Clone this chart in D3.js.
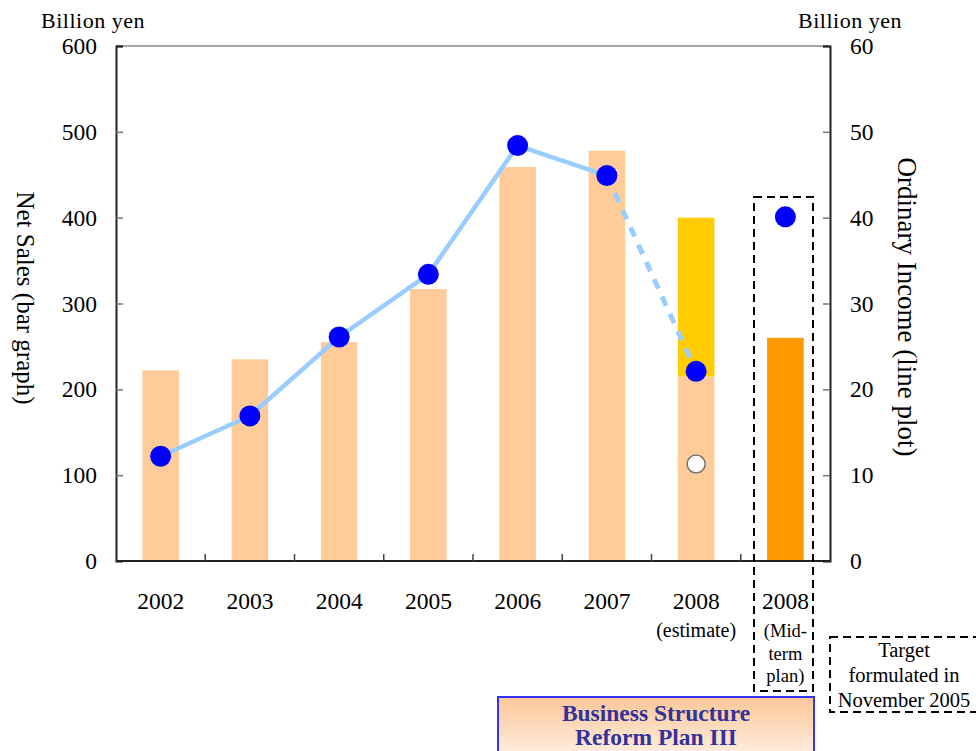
<!DOCTYPE html>
<html><head><meta charset="utf-8">
<script src="https://cdn.jsdelivr.net/npm/d3@7"></script>
<style>
body{margin:0;background:#fff}
svg{font-family:"Liberation Serif","Times New Roman",serif}
</style>
</head><body>
<svg id="chart" width="976" height="751"></svg>
<script>
// ---- data ----
const categories = ["2002","2003","2004","2005","2006","2007","2008e","2008p"];
const yearLabels = ["2002","2003","2004","2005","2006","2007","2008","2008"];
const netSales = [222,235,255,317,459,478,215,null];          // peach bars
const netSalesEstimateTop = [null,null,null,null,null,null,400,null]; // yellow part top
const netSalesPlan = [null,null,null,null,null,null,null,260]; // orange bar
const ordinaryIncome = [12.2,16.9,26.1,33.4,48.4,44.9,22.1,null];
const ordinaryIncomeHollow = [null,null,null,null,null,null,11.3,null];
const ordinaryIncomePlan = [null,null,null,null,null,null,null,40.1];
const leftTicks = [0,100,200,300,400,500,600];
const rightTicks = [0,10,20,30,40,50,60];

// ---- layout ----
const svg = d3.select("#chart");
const L = 116, R = 830, T = 46, B = 561;
const x = d3.scaleBand().domain(categories).range([L, R]).paddingInner(0).paddingOuter(0);
const yL = d3.scaleLinear().domain([0,600]).range([B, T]);
const yR = d3.scaleLinear().domain([0,60]).range([B, T]);
const bw = x.bandwidth() * 0.41;
const cx = c => x(c) + x.bandwidth()/2;

// top border
svg.append("line").attr("x1",L).attr("x2",R).attr("y1",T).attr("y2",T)
  .attr("stroke","#888").attr("stroke-width",1.5);

// bars
const idx = d3.range(categories.length);
svg.append("g").selectAll("rect").data(idx.filter(i=>netSales[i]!=null)).join("rect")
  .attr("x", i=>cx(categories[i])-bw/2).attr("width", bw)
  .attr("y", i=>yL(netSales[i])).attr("height", i=>yL(0)-yL(netSales[i]))
  .attr("fill","#ffcc99");
svg.append("g").selectAll("rect").data(idx.filter(i=>netSalesEstimateTop[i]!=null)).join("rect")
  .attr("x", i=>cx(categories[i])-bw/2).attr("width", bw)
  .attr("y", i=>yL(netSalesEstimateTop[i])).attr("height", i=>yL(netSales[i])-yL(netSalesEstimateTop[i]))
  .attr("fill","#ffcc00");
svg.append("g").selectAll("rect").data(idx.filter(i=>netSalesPlan[i]!=null)).join("rect")
  .attr("x", i=>cx(categories[i])-bw/2).attr("width", bw)
  .attr("y", i=>yL(netSalesPlan[i])).attr("height", i=>yL(0)-yL(netSalesPlan[i]))
  .attr("fill","#ff9900");

// axes
const axL = svg.append("g").attr("transform",`translate(${L},0)`)
  .call(d3.axisLeft(yL).tickValues(leftTicks).tickSize(-7).tickPadding(19));
const axR = svg.append("g").attr("transform",`translate(${R},0)`)
  .call(d3.axisRight(yR).tickValues(rightTicks).tickSize(-7).tickPadding(20));
[axL, axR].forEach(a=>{
  a.select(".domain").attr("stroke","#222").attr("stroke-width",2);
  a.selectAll(".tick line").attr("stroke","#777").attr("stroke-width",1.5);
  a.selectAll(".tick text").attr("font-family","Liberation Serif").attr("font-size",23.5).attr("fill","#000");
  a.selectAll(".tick").filter(d=>d===600||d===60).select("line").attr("stroke","#222");
});
// bottom axis line
svg.append("line").attr("x1",L).attr("x2",R).attr("y1",B).attr("y2",B).attr("stroke","#222").attr("stroke-width",2);
// category boundary ticks (pointing up)
svg.append("g").selectAll("line").data(categories.slice(1)).join("line")
  .attr("x1",c=>x(c)).attr("x2",c=>x(c)).attr("y1",B).attr("y2",B-7)
  .attr("stroke","#444").attr("stroke-width",1.5);

// x labels
svg.append("g").selectAll("text").data(idx).join("text")
  .attr("x", i=>cx(categories[i])).attr("y", 609).attr("text-anchor","middle")
  .attr("font-size",23.5).text(i=>yearLabels[i]);
svg.append("text").attr("x",cx("2008e")).attr("y",637).attr("text-anchor","middle")
  .attr("font-size",20).text("(estimate)");
[["(Mid-",637],["term",660],["plan)",682]].forEach(([t,yy])=>{
  svg.append("text").attr("x",cx("2008p")).attr("y",yy).attr("text-anchor","middle")
    .attr("font-size",18.5).text(t);
});

// line
const lineGen = d3.line().x(i=>cx(categories[i])).y(i=>yR(ordinaryIncome[i]));
svg.append("path").datum([0,1,2,3,4,5]).attr("d",lineGen)
  .attr("fill","none").attr("stroke","#99ccff").attr("stroke-width",4.5);
svg.append("path").datum([5,6]).attr("d",lineGen)
  .attr("fill","none").attr("stroke","#99ccff").attr("stroke-width",5).attr("stroke-dasharray","10,9");
svg.append("g").selectAll("circle").data(idx.filter(i=>ordinaryIncome[i]!=null)).join("circle")
  .attr("cx",i=>cx(categories[i])).attr("cy",i=>yR(ordinaryIncome[i])).attr("r",10.5).attr("fill","#0000ff");
svg.append("g").selectAll("circle").data(idx.filter(i=>ordinaryIncomePlan[i]!=null)).join("circle")
  .attr("cx",i=>cx(categories[i])).attr("cy",i=>yR(ordinaryIncomePlan[i])).attr("r",10.5).attr("fill","#0000ff");
svg.append("g").selectAll("circle").data(idx.filter(i=>ordinaryIncomeHollow[i]!=null)).join("circle")
  .attr("cx",i=>cx(categories[i])).attr("cy",i=>yR(ordinaryIncomeHollow[i])).attr("r",9)
  .attr("fill","#fff").attr("stroke","#777").attr("stroke-width",1.5);

// unit labels
svg.append("text").attr("x",93).attr("y",28).attr("text-anchor","middle").attr("font-size",22)
  .attr("letter-spacing",0.5).text("Billion yen");
svg.append("text").attr("x",850).attr("y",28).attr("text-anchor","middle").attr("font-size",22)
  .attr("letter-spacing",0.5).text("Billion yen");

// axis titles
svg.append("text").attr("transform","translate(17,298) rotate(90)").attr("text-anchor","middle")
  .attr("font-size",25).text("Net Sales (bar graph)");
svg.append("text").attr("transform","translate(898,307) rotate(90)").attr("text-anchor","middle")
  .attr("font-size",27).text("Ordinary Income (line plot)");

// dashed box around mid-term plan
svg.append("rect").attr("x",754).attr("y",197).attr("width",59).attr("height",494)
  .attr("fill","none").attr("stroke","#000").attr("stroke-width",2).attr("stroke-dasharray","8,5");
// target box
svg.append("rect").attr("x",830).attr("y",637).attr("width",160).attr("height",75)
  .attr("fill","none").attr("stroke","#000").attr("stroke-width",2).attr("stroke-dasharray","8,5");
[["Target",657],["formulated in",682],["November 2005",707]].forEach(([t,yy])=>{
  svg.append("text").attr("x",904).attr("y",yy).attr("text-anchor","middle").attr("font-size",20.5).text(t);
});

// Business Structure box
const defs = svg.append("defs");
const g = defs.append("linearGradient").attr("id","bsg").attr("x1",0).attr("y1",0).attr("x2",0).attr("y2",1);
g.append("stop").attr("offset","0%").attr("stop-color","#fcc697");
g.append("stop").attr("offset","100%").attr("stop-color","#fff6ee");
svg.append("rect").attr("x",498).attr("y",697).attr("width",316).attr("height",70)
  .attr("fill","url(#bsg)").attr("stroke","#3333ff").attr("stroke-width",2);
svg.append("text").attr("x",656).attr("y",721).attr("text-anchor","middle").attr("font-size",23.5)
  .attr("font-weight","bold").attr("fill","#333399").text("Business Structure");
svg.append("text").attr("x",656).attr("y",745).attr("text-anchor","middle").attr("font-size",23.5)
  .attr("font-weight","bold").attr("fill","#333399").text("Reform Plan III");
</script>
</body></html>
